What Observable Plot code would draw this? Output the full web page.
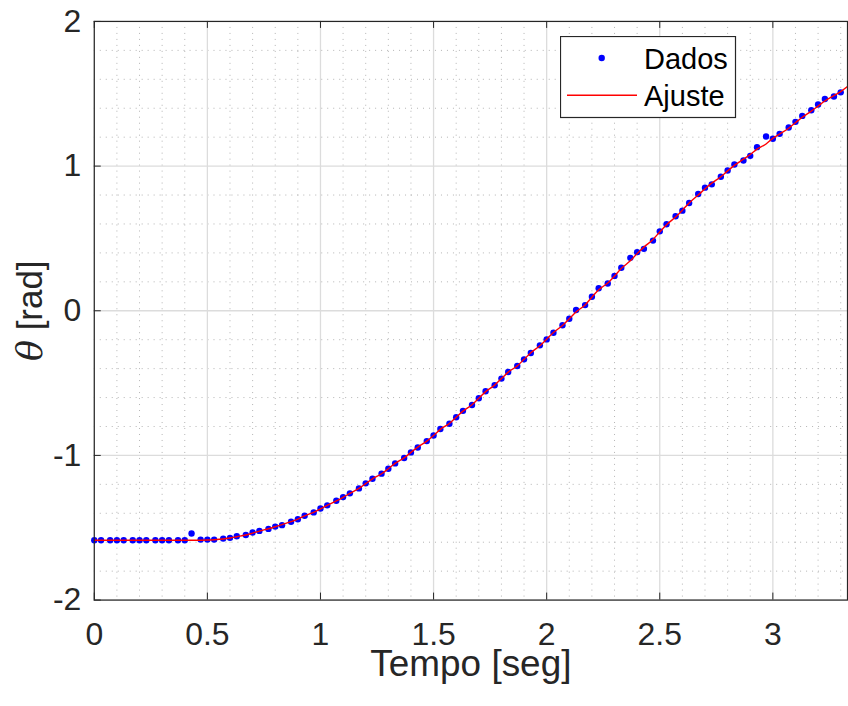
<!DOCTYPE html>
<html>
<head>
<meta charset="utf-8">
<script src="https://cdn.jsdelivr.net/npm/d3@7"></script>
<script src="https://cdn.jsdelivr.net/npm/@observablehq/plot@0.6"></script>
<style>
  html, body { margin: 0; padding: 0; background: #fff; overflow: hidden; }
  #wrap { position: relative; width: 848px; height: 706px; overflow: hidden; }
  #legend { position: absolute; left: 560px; top: 36px; }
</style>
</head>
<body>
<div id="wrap"></div>
<script>
// ---- data ----
const times = [0,0.03,0.07,0.10,0.13,0.17,0.20,0.23,0.27,0.30,0.33,0.37,0.40,0.43,0.47,0.50,0.53,0.57,0.60,0.63,
  0.67,0.70,0.73,0.77,0.80,0.83,0.87,0.90,0.93,0.97,1.00,1.03,1.07,1.10,1.13,1.17,1.20,1.23,1.27,1.30,
  1.33,1.37,1.40,1.43,1.47,1.50,1.53,1.57,1.60,1.63,1.67,1.70,1.73,1.77,1.80,1.83,1.87,1.90,1.93,1.97,
  2.00,2.03,2.07,2.10,2.13,2.17,2.20,2.23,2.27,2.30,2.33,2.37,2.40,2.43,2.47,2.50,2.53,2.57,2.60,2.63,
  2.67,2.70,2.73,2.77,2.80,2.83,2.87,2.90,2.93,2.97,3.00,3.03,3.07,3.10,3.13,3.17,3.20,3.23,3.27,3.30];

const dados = [-1.586,-1.586,-1.586,-1.586,-1.586,-1.586,-1.586,-1.586,-1.586,-1.586,-1.586,-1.586,-1.586,
  -1.540,-1.582,-1.582,-1.582,-1.575,-1.570,-1.559,-1.550,-1.533,-1.522,
  -1.508,-1.492,-1.482,-1.459,-1.441,-1.417,-1.394,-1.367,-1.345,-1.313,
  -1.288,-1.262,-1.228,-1.193,-1.161,-1.126,-1.092,-1.055,-1.018,-0.979,
  -0.945,-0.901,-0.862,-0.817,-0.781,-0.736,-0.692,-0.651,-0.605,-0.556,
  -0.515,-0.469,-0.423,-0.382,-0.336,-0.292,-0.239,-0.198,-0.152,-0.100,
  -0.055,0.005,0.039,0.097,0.156,0.188,0.241,0.297,0.366,0.405,
  0.428,0.485,0.549,0.598,0.653,0.692,0.745,0.807,0.851,0.874,
  0.926,0.970,1.011,1.039,1.071,1.131,1.205,1.189,1.223,1.267,
  1.306,1.347,1.386,1.426,1.464,1.481,1.510];

const fitTimes = [...times, 3.33];
const ajuste = [-1.586,-1.586,-1.586,-1.586,-1.586,-1.586,-1.586,-1.586,-1.586,-1.586,-1.586,-1.586,-1.586,-1.586,-1.586,
  -1.585,-1.583,-1.578,-1.571,-1.562,-1.550,-1.537,-1.523,-1.507,-1.493,
  -1.478,-1.458,-1.440,-1.418,-1.393,-1.370,-1.345,-1.315,-1.290,-1.262,
  -1.228,-1.195,-1.162,-1.127,-1.092,-1.055,-1.017,-0.979,-0.943,-0.901,
  -0.862,-0.820,-0.779,-0.736,-0.694,-0.650,-0.605,-0.559,-0.514,-0.469,
  -0.424,-0.381,-0.336,-0.290,-0.242,-0.197,-0.150,-0.102,-0.055,-0.008,
  0.040,0.094,0.145,0.192,0.240,0.293,0.345,0.395,0.440,0.493,
  0.545,0.595,0.648,0.695,0.745,0.800,0.843,0.882,0.926,0.967,
  1.005,1.048,1.080,1.117,1.153,1.192,1.222,1.262,1.300,1.338,
  1.380,1.415,1.450,1.487,1.515,1.550];

const xTicks = [0, 0.5, 1, 1.5, 2, 2.5, 3];
const yTicks = [-2, -1, 0, 1, 2];
const xMinor = [0.1,0.2,0.3,0.4,0.6,0.7,0.8,0.9,1.1,1.2,1.3,1.4,1.6,1.7,1.8,1.9,2.1,2.2,2.3,2.4,2.6,2.7,2.8,2.9,3.1,3.2,3.3];
const yMinor = [-1.8,-1.6,-1.4,-1.2,-0.8,-0.6,-0.4,-0.2,0.2,0.4,0.6,0.8,1.2,1.4,1.6,1.8];
const xDomain = [0, 3.33];
const yDomain = [-2, 2];
const seriesNames = ["Dados", "Ajuste"];

const pts = times.map((t, i) => ({t, v: dados[i]}));
const fit = fitTimes.map((t, i) => ({t, v: ajuste[i]}));

const W = 850, H = 706;
const mL = 94, mR = 1, mT = 21, mB = 105;
const innerW = W - mL - mR, innerH = H - mT - mB;
const tickLen = 7;
const axisColor = "#262626";

const chart = Plot.plot({
  width: W, height: H,
  marginLeft: mL, marginRight: mR, marginTop: mT, marginBottom: mB,
  style: {fontFamily: "'Liberation Sans', Arial, Helvetica, sans-serif", fontSize: "32px", color: axisColor, background: "#fff"},
  x: {domain: xDomain},
  y: {domain: yDomain},
  marks: [
    Plot.gridX(xMinor, {stroke: "#b4b4b4", strokeOpacity: 1, strokeWidth: 1, strokeDasharray: "1,5"}),
    Plot.gridY(yMinor, {stroke: "#b4b4b4", strokeOpacity: 1, strokeWidth: 1, strokeDasharray: "1,5"}),
    Plot.gridX(xTicks, {stroke: "#dcdcdc", strokeOpacity: 1, strokeWidth: 1.3}),
    Plot.gridY(yTicks, {stroke: "#dcdcdc", strokeOpacity: 1, strokeWidth: 1.3}),
    Plot.dot(pts, {x: "t", y: "v", r: 3.2, fill: "#0000ff", stroke: "none"}),
    Plot.line(fit, {x: "t", y: "v", stroke: "#ff0000", strokeWidth: 1.4, curve: "monotone-x", clip: true}),
    // inward ticks
    Plot.tickX(xTicks, {x: d => d, stroke: axisColor, insetTop: innerH - tickLen}),
    Plot.tickX(xTicks, {x: d => d, stroke: axisColor, insetBottom: innerH - tickLen}),
    Plot.tickY(yTicks, {y: d => d, stroke: axisColor, insetRight: innerW - tickLen}),
    Plot.frame({stroke: axisColor, strokeWidth: 1.2}),
    Plot.axisX(xTicks, {tickSize: 0, tickPadding: 22, tickFormat: d => String(d), label: null, fontSize: 32, fill: axisColor}),
    Plot.axisY(yTicks, {tickSize: 0, tickPadding: 13, tickFormat: d => String(d), label: null, fontSize: 32, fill: axisColor}),
    Plot.text(["Tempo [seg]"], {frameAnchor: "bottom", dy: 50, lineAnchor: "top", fontSize: 37, fill: axisColor}),
    Plot.text(["θ [rad]"], {frameAnchor: "left", dx: -64, rotate: -90, fontSize: 35, fill: axisColor, className: "ylab"})
  ]
});

document.getElementById("wrap").appendChild(chart);

// italic theta as in the LaTeX label
const yl = chart.querySelector(".ylab text");
if (yl) {
  yl.textContent = "";
  yl.setAttribute("text-anchor", "middle");
  const t1 = document.createElementNS("http://www.w3.org/2000/svg", "tspan");
  t1.setAttribute("font-style", "italic");
  t1.setAttribute("font-family", "'DejaVu Serif', 'Liberation Serif', serif");
  t1.textContent = "θ";
  const t2 = document.createElementNS("http://www.w3.org/2000/svg", "tspan");
  t2.textContent = " [rad]";
  yl.appendChild(t1); yl.appendChild(t2);
}

// legend
const lg = document.createElement("div");
lg.id = "legend";
lg.innerHTML = `<svg width="177" height="83" xmlns="http://www.w3.org/2000/svg" style="font-family:'Liberation Sans', Arial, sans-serif;font-size:29px;">
  <rect x="0.5" y="0.5" width="175" height="81" fill="#fff" stroke="${axisColor}" stroke-width="1.2"/>
  <circle cx="41.7" cy="22" r="3.2" fill="#0000ff"/>
  <line x1="7" x2="77" y1="59.3" y2="59.3" stroke="#ff0000" stroke-width="1.4"/>
  <text x="84" y="33.3" fill="#000">${seriesNames[0]}</text>
  <text x="84" y="70" fill="#000">${seriesNames[1]}</text>
</svg>`;
document.getElementById("wrap").appendChild(lg);
</script>
</body>
</html>
